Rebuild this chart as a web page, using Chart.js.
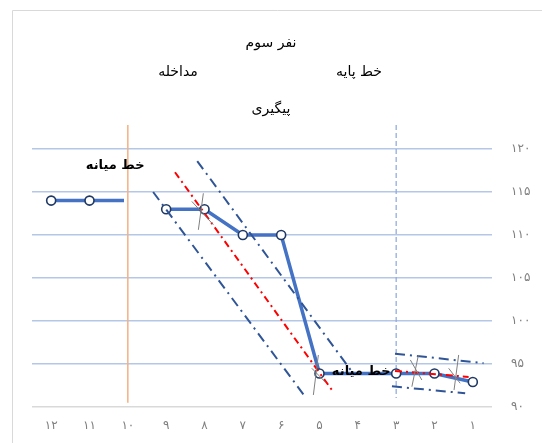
<!DOCTYPE html>
<html>
<head>
<meta charset="utf-8">
<script src="https://cdn.jsdelivr.net/npm/chart.js@4"></script>
<style>
    body { margin: 0; background: #fff; }
    #wrap { width: 542px; height: 443px; position: relative; }
</style>
</head>
<body>
<div id="wrap"><canvas id="singleCaseChart"></canvas></div>
<script>
    // ============================================
    // DATA
    // ============================================
    const sessions = [1, 2, 3, 4, 5, 6, 7, 8, 9, 10, 11, 12];
    const sessionLabels = ['۱', '۲', '۳', '۴', '۵', '۶', '۷', '۸', '۹', '۱۰', '۱۱', '۱۲'];
    const yTicks = [90, 95, 100, 105, 110, 115, 120];
    const yTickLabels = ['۹۰', '۹۵', '۱۰۰', '۱۰۵', '۱۱۰', '۱۱۵', '۱۲۰'];

    // baseline + intervention (sessions 1-9), follow-up (10-12)
    const mainSessions = [1, 2, 3, 4, 5, 6, 7, 8, 9];
    const mainValues = [92.9, 93.9, 93.9, 93.9, 93.9, 110, 110, 113, 113];
    const followSessions = [10.1, 11, 12];
    const followValues = [114, 114, 114];
    const unmarkedSessions = [4, 10.1];

    // celeration (trend) lines and their envelopes
    const baseTrendX = [3.03, 1.11], baseTrendY = [94.2, 93.5];
    const baseUpperX = [3.03, 0.72], baseUpperY = [96.2, 95.1];
    const baseLowerX = [3.11, 1.2], baseLowerY = [92.4, 91.6];
    const midTrendX = [8.77, 4.68], midTrendY = [117.3, 92.0];
    const midUpperX = [8.19, 4.17], midUpperY = [118.6, 94.2];
    const midLowerX = [9.34, 5.35], midLowerY = [115.0, 91.05];

    // small split-middle crosses
    const crossX = [[8.03, 8.16], [8.33, 7.77], [5.03, 5.16], [5.2, 4.85],
                    [2.42, 2.59], [2.63, 2.33], [1.37, 1.49], [1.63, 1.33]];
    const crossY = [[114.85, 110.6], [113.9, 111.2], [96.05, 91.4], [94.5, 92.9],
                    [96.05, 92.36], [95.47, 93.14], [96.05, 91.98], [94.5, 92.76]];

    // phase change lines
    const followPhaseX = 10, basePhaseX = 3;
    const phaseLineTop = 122.8;
    const followPhaseBottom = 90.5, basePhaseBottom = 91.05;

    // median labels
    const medianLabel = 'خط میانه';
    const medianLabelX = [10.33, 3.91], medianLabelY = [118.1, 94.07];

    function pts(xs, ys) {
        return xs.map(function(x, i) { return { x: x, y: ys[i] }; });
    }

    function segment(xs, ys, color, dash, width) {
        return {
            data: pts(xs, ys),
            borderColor: color,
            borderDash: dash,
            borderWidth: width,
            pointRadius: 0,
            fill: false,
            clip: false
        };
    }

    const datasets = [];

    crossX.forEach(function(xs, i) {
        datasets.push(segment(xs, crossY[i], '#7f7f7f', [], 1));
    });

    datasets.push(segment(baseTrendX, baseTrendY, '#FF0000', [7, 4, 2, 4], 2));
    datasets.push(segment(midTrendX, midTrendY, '#FF0000', [7, 4, 2, 4], 2));
    datasets.push(segment(baseUpperX, baseUpperY, '#2F5597', [10, 5, 2, 5], 2));
    datasets.push(segment(baseLowerX, baseLowerY, '#2F5597', [10, 5, 2, 5], 2));
    datasets.push(segment(midUpperX, midUpperY, '#2F5597', [10, 5, 2, 5], 2));
    datasets.push(segment(midLowerX, midLowerY, '#2F5597', [10, 5, 2, 5], 2));

    const markerRadius = function(ctx) {
        return unmarkedSessions.indexOf(ctx.raw.x) >= 0 ? 0 : 4.5;
    };

    datasets.push({
        data: pts(mainSessions, mainValues),
        borderColor: '#4472C4',
        borderWidth: 3.5,
        pointRadius: markerRadius,
        pointBackgroundColor: '#fff',
        pointBorderColor: '#1F3864',
        pointBorderWidth: 1.6,
        fill: false
    });
    datasets.push({
        data: pts(followSessions, followValues),
        borderColor: '#4472C4',
        borderWidth: 3.5,
        pointRadius: markerRadius,
        pointBackgroundColor: '#fff',
        pointBorderColor: '#1F3864',
        pointBorderWidth: 1.6,
        fill: false
    });

    datasets.push(segment([followPhaseX, followPhaseX], [phaseLineTop, followPhaseBottom], '#F4B183', [], 1.5));
    datasets.push(segment([basePhaseX, basePhaseX], [phaseLineTop, basePhaseBottom], '#8FAADC', [5, 3], 1.25));

    // ============================================
    // TEXT PLUGIN (titles, median labels, frame)
    // ============================================
    const textPlugin = {
        id: 'textPlugin',
        beforeDraw: function(chart) {
            const ctx = chart.ctx;
            ctx.save();
            ctx.strokeStyle = '#D9D9D9';
            ctx.lineWidth = 1;
            ctx.beginPath();
            ctx.moveTo(12.5, 443);
            ctx.lineTo(12.5, 10.5);
            ctx.lineTo(542, 10.5);
            ctx.stroke();
            ctx.restore();
        },
        afterDatasetsDraw: function(chart) {
            const ctx = chart.ctx;
            const xs = chart.scales.x, ys = chart.scales.y;
            ctx.save();
            ctx.fillStyle = '#000';
            ctx.textAlign = 'center';
            ctx.textBaseline = 'middle';
            ctx.direction = 'rtl';
            ctx.font = '14px "DejaVu Sans"';
            ctx.fillText('نفر سوم', 271, 43);
            ctx.fillText('مداخله', 178, 72);
            ctx.fillText('خط پایه', 359, 72);
            ctx.fillText('پیگیری', 271, 109);
            ctx.font = 'bold 13px "DejaVu Sans"';
            medianLabelX.forEach(function(x, i) {
                ctx.fillText(medianLabel, xs.getPixelForValue(x), ys.getPixelForValue(medianLabelY[i]));
            });
            ctx.restore();
        }
    };

    new Chart(document.getElementById('singleCaseChart'), {
        type: 'line',
        data: { datasets: datasets },
        plugins: [textPlugin],
        options: {
            responsive: true,
            maintainAspectRatio: false,
            animation: false,
            layout: { padding: { left: 32, top: 149, right: 0, bottom: 0 } },
            plugins: {
                legend: { display: false },
                tooltip: { enabled: false }
            },
            scales: {
                x: {
                    type: 'linear',
                    reverse: true,
                    min: 0.5,
                    max: 12.5,
                    afterBuildTicks: function(scale) {
                        scale.ticks = sessions.map(function(s) { return { value: s }; });
                    },
                    afterFit: function(scale) { scale.height = 36; },
                    grid: { display: false, drawTicks: false },
                    border: { display: false },
                    ticks: {
                        padding: 12,
                        color: '#7f7f7f',
                        font: { family: 'DejaVu Sans', size: 12 },
                        callback: function(value) {
                            return sessionLabels[sessions.indexOf(value)];
                        }
                    }
                },
                y: {
                    position: 'right',
                    min: 90,
                    max: 120,
                    afterBuildTicks: function(scale) {
                        scale.ticks = yTicks.map(function(v) { return { value: v }; });
                    },
                    afterFit: function(scale) { scale.width = 50; },
                    grid: {
                        drawTicks: false,
                        lineWidth: 1.5,
                        color: function(ctx) {
                            return ctx.tick && ctx.tick.value === 90 ? '#D9D9D9' : '#B4C7E7';
                        }
                    },
                    border: { display: false },
                    ticks: {
                        padding: 19,
                        color: '#7f7f7f',
                        font: { family: 'DejaVu Sans', size: 12 },
                        callback: function(value) {
                            return yTickLabels[yTicks.indexOf(value)];
                        }
                    }
                }
            }
        }
    });
</script>
</body>
</html>
